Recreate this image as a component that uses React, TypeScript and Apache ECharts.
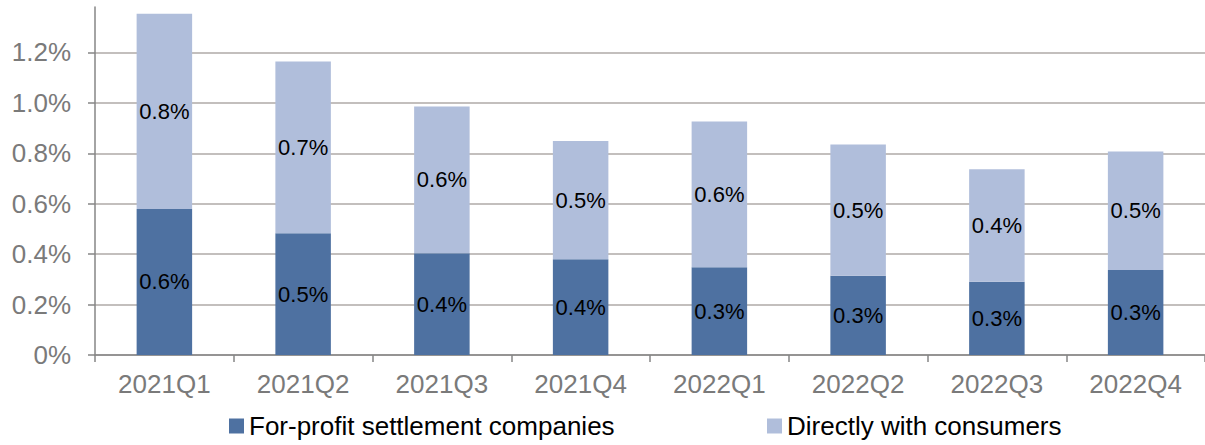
import React, { useEffect, useRef } from "react";
import * as echarts from "echarts";

const categories = ["2021Q1", "2021Q2", "2021Q3", "2021Q4", "2022Q1", "2022Q2", "2022Q3", "2022Q4"];
const forProfit = [0.579, 0.483, 0.403, 0.38, 0.348, 0.314, 0.29, 0.337];
const directly = [0.774, 0.681, 0.582, 0.469, 0.578, 0.521, 0.447, 0.47];
const yTicks = [0, 0.2, 0.4, 0.6, 0.8, 1.0, 1.2];
const seriesNames = ["For-profit settlement companies", "Directly with consumers"];

const FONT = "'Liberation Sans', Arial, sans-serif";

export default function App() {
  const ref = useRef<HTMLDivElement>(null);
  useEffect(() => {
    if (!ref.current) return;
    const chart = echarts.init(ref.current, null, { renderer: "svg" });
    const labelFmt = (p: any) => Number(p.value).toFixed(1) + "%";
    chart.setOption({
      animation: false,
      backgroundColor: "#ffffff",
      textStyle: { fontFamily: FONT },
      grid: { left: 95, right: 0, top: 7, bottom: 90, containLabel: false },
      legend: [
        {
          data: [seriesNames[0]],
          left: 224,
          top: 408,
          icon: "rect",
          itemWidth: 15,
          itemHeight: 15,
          textStyle: { fontSize: 26, color: "#000000", fontFamily: FONT },
        },
        {
          data: [seriesNames[1]],
          left: 762,
          top: 408,
          icon: "rect",
          itemWidth: 15,
          itemHeight: 15,
          textStyle: { fontSize: 26, color: "#000000", fontFamily: FONT },
        },
      ],
      xAxis: {
        type: "category",
        data: categories,
        axisLine: { lineStyle: { color: "#868686", width: 1.5 } },
        axisTick: { show: true, length: 7, lineStyle: { color: "#868686", width: 1.5 } },
        axisLabel: { fontSize: 26, color: "#7a7a7a", margin: 16, fontFamily: FONT },
      },
      yAxis: {
        type: "value",
        min: 0,
        max: 1.38,
        interval: 0.2,
        axisLine: { show: true, lineStyle: { color: "#868686", width: 1.5 } },
        axisTick: {
          show: true,
          length: 7,
          lineStyle: { color: "#868686", width: 1.5 },
          customValues: yTicks,
        },
        axisLabel: {
          fontSize: 26,
          color: "#7a7a7a",
          margin: 24,
          fontFamily: FONT,
          customValues: yTicks,
          formatter: (v: number) => (v === 0 ? "0%" : v.toFixed(1) + "%"),
        },
        splitLine: {
          show: true,
          lineStyle: { color: "#c3bfbd", width: 2 },
        },
      },
      series: [
        {
          name: seriesNames[0],
          type: "bar",
          stack: "total",
          data: forProfit,
          barWidth: "40%",
          itemStyle: { color: "#4e71a1" },
          label: {
            show: true,
            position: "inside",
            formatter: labelFmt,
            fontSize: 22,
            color: "#000000",
            fontFamily: FONT,
          },
        },
        {
          name: seriesNames[1],
          type: "bar",
          stack: "total",
          data: directly,
          barWidth: "40%",
          itemStyle: { color: "#b0bedb" },
          label: {
            show: true,
            position: "inside",
            formatter: labelFmt,
            fontSize: 22,
            color: "#000000",
            fontFamily: FONT,
          },
        },
      ],
    });
    return () => chart.dispose();
  }, []);
  return (
    <div
      ref={ref}
      style={{ position: "absolute", left: 0, top: 0, width: 1205, height: 445, background: "#fff" }}
    />
  );
}
